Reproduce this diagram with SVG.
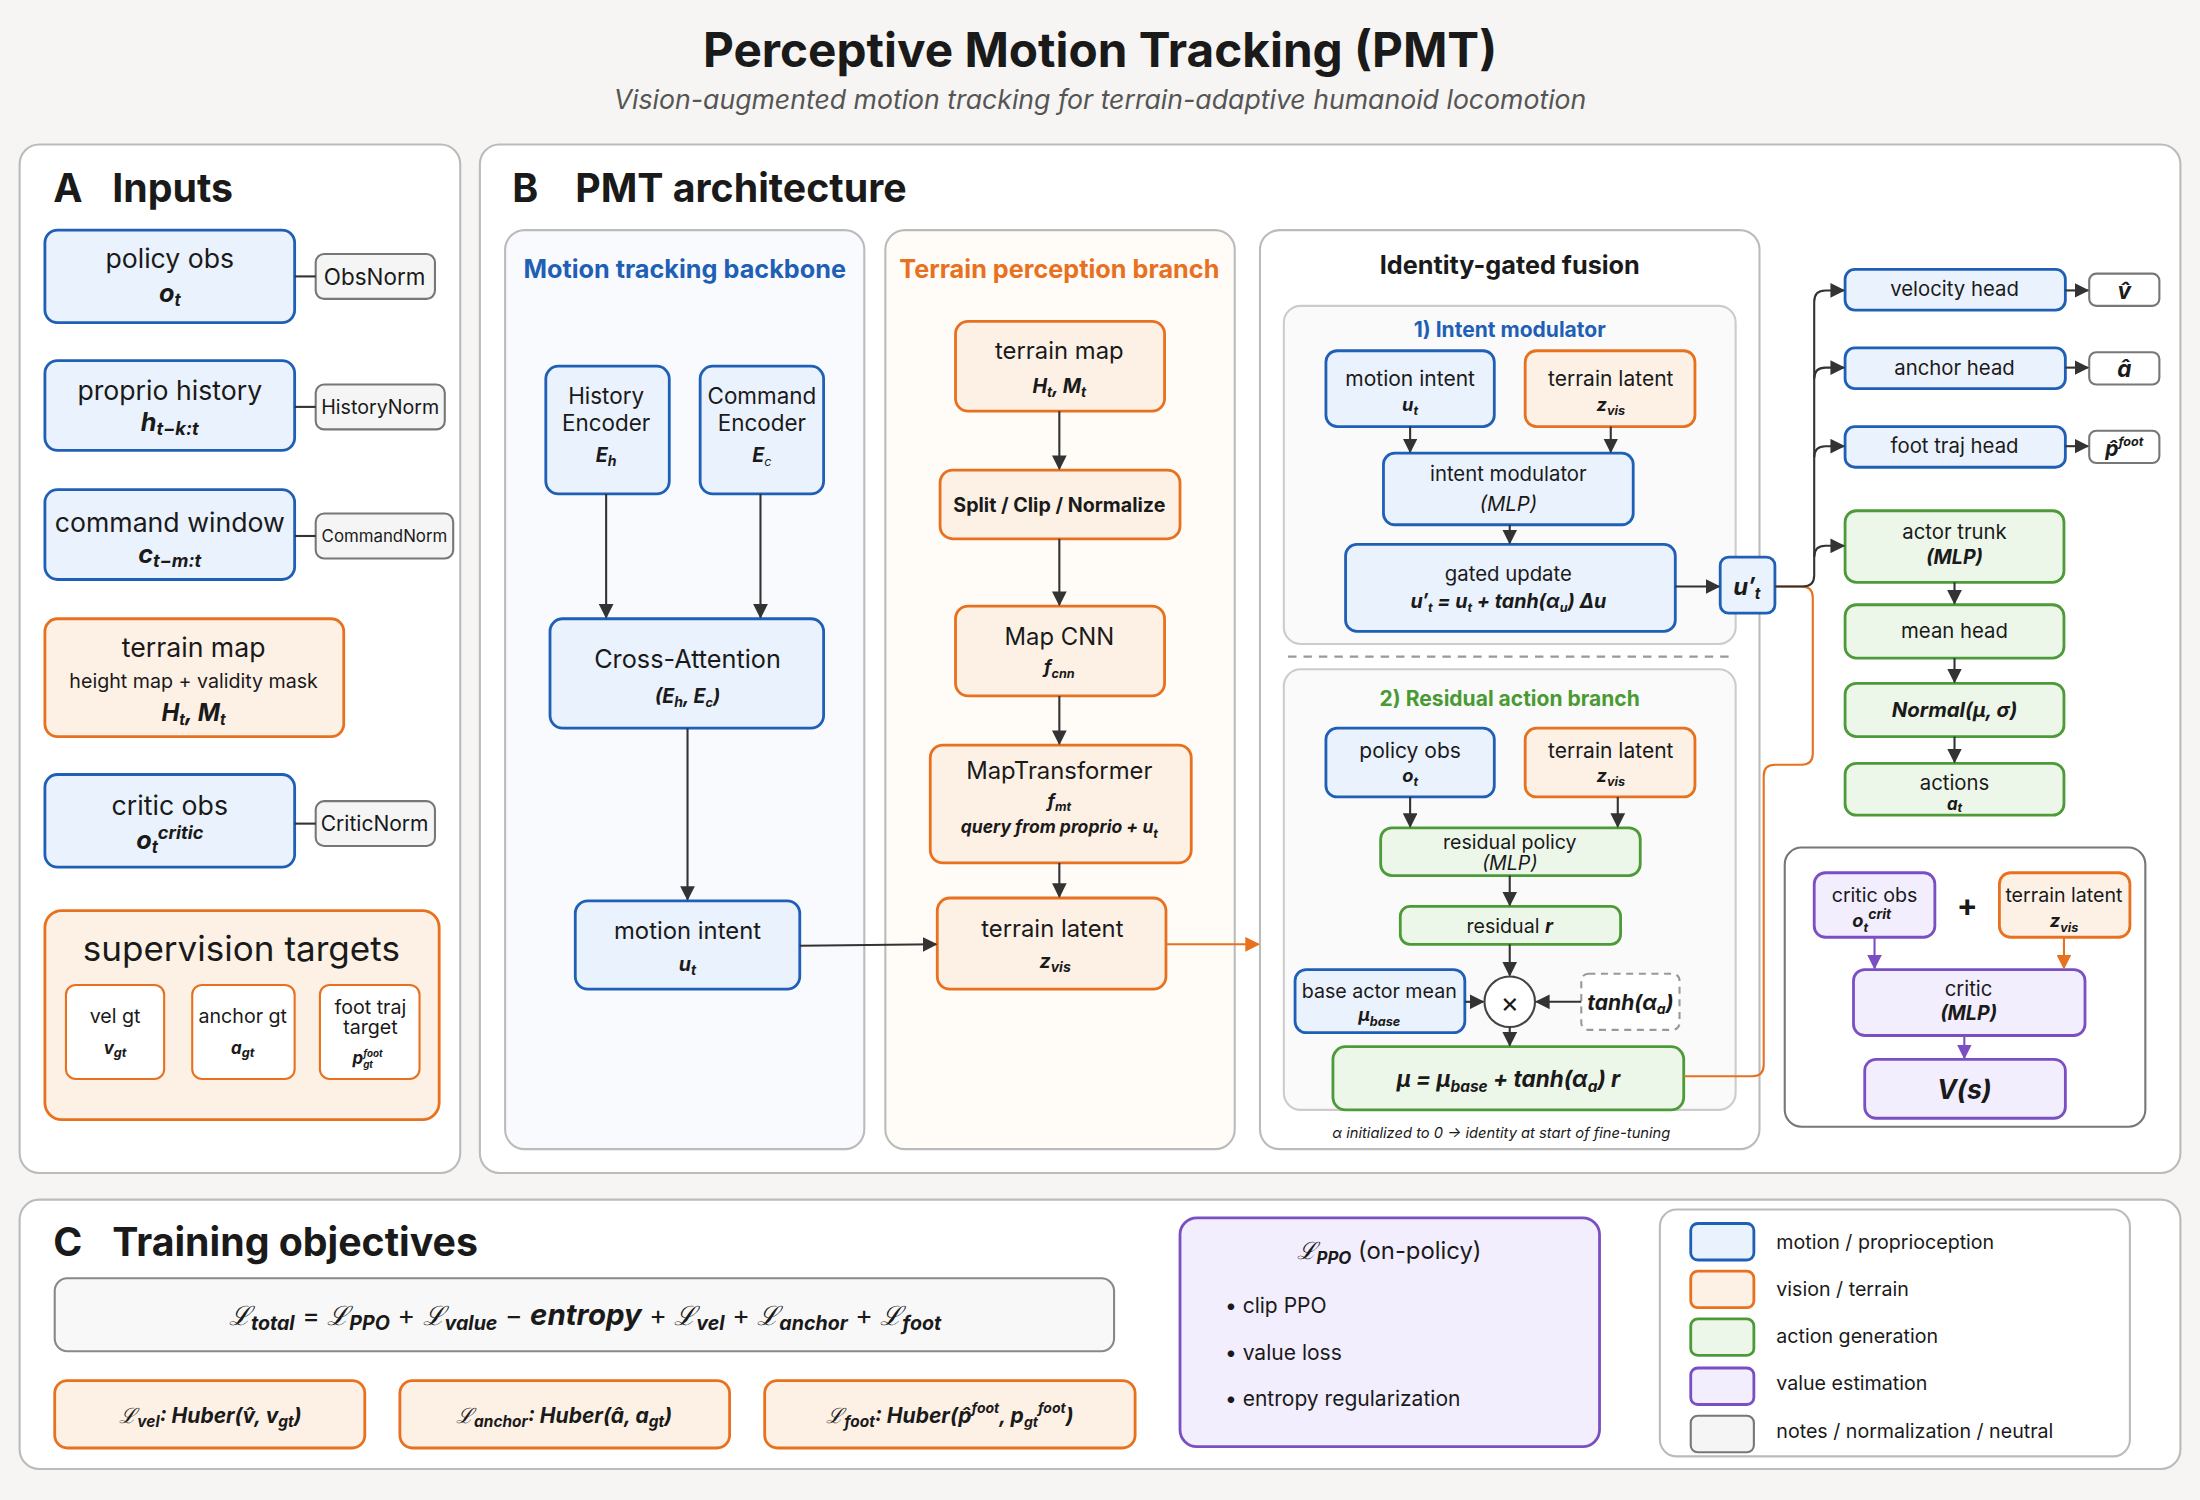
<svg xmlns="http://www.w3.org/2000/svg" width="2200" height="1500" viewBox="0 0 2200 1500">
<style>
text{font-family:Inter,"Noto Sans","DejaVu Sans",sans-serif;fill:#1a1a1a}
.c{text-anchor:middle}
.bi{font-weight:700;font-style:italic}
.b{font-weight:700}
.i{font-style:italic}
.blue{fill:#eaf2fd;stroke:#1f5fb5;stroke-width:2}
.or{fill:#fdf1e6;stroke:#e8711f;stroke-width:2}
.gr{fill:#edf7e9;stroke:#4d9a38;stroke-width:2}
.pu{fill:#f3eefd;stroke:#7b4fc4;stroke-width:2}
.ne{fill:#f5f5f5;stroke:#777;stroke-width:1.5}
.panel{fill:#fff;stroke:#bbb;stroke-width:1.5}
.ln{fill:none;stroke:#333;stroke-width:1.5}
.scr{font-family:"DejaVu Serif",serif;font-style:italic;font-weight:400}
</style>
<defs>
<marker id="a" viewBox="0 0 10 10" refX="9" refY="5" markerWidth="7" markerHeight="7" orient="auto"><path d="M0,0L10,5L0,10z" fill="#333"/></marker>
<marker id="ao" viewBox="0 0 10 10" refX="9" refY="5" markerWidth="7" markerHeight="7" orient="auto"><path d="M0,0L10,5L0,10z" fill="#e8711f"/></marker>
<marker id="ap" viewBox="0 0 10 10" refX="9" refY="5" markerWidth="7" markerHeight="7" orient="auto"><path d="M0,0L10,5L0,10z" fill="#7b4fc4"/></marker>
</defs>
<rect width="2200" height="1500" fill="#f6f5f3"/>
<g transform="scale(1.4031)">
<text x="784" y="48" class="c b" font-size="34">Perceptive Motion Tracking (PMT)</text>
<text x="784" y="78" class="c i" font-size="19" style="fill:#555">Vision-augmented motion tracking for terrain-adaptive humanoid locomotion</text>

<!-- Panel A -->
<g id="panelA">
<rect x="14" y="103" width="314" height="733" rx="14" class="panel"/>
<text x="38" y="144" class="b" font-size="28">A</text><text x="80" y="144" class="b" font-size="28">Inputs</text>
</g>
<g id="in_policy"><rect x="32" y="164" width="178" height="66" rx="9" class="blue"/><text x="121" y="191" class="c" font-size="19">policy obs</text><text x="121" y="215" class="c bi" font-size="18">o<tspan font-size="12" dy="3">t</tspan></text></g>
<g id="n_obs"><rect x="225" y="181" width="85" height="32" rx="6" class="ne"/><text x="267" y="203" class="c" font-size="16">ObsNorm</text></g>
<g id="in_hist"><rect x="32" y="257" width="178" height="64" rx="9" class="blue"/><text x="121" y="285" class="c" font-size="19">proprio history</text><text x="121" y="307" class="c bi" font-size="18">h<tspan font-size="13" dy="3">t−k:t</tspan></text></g>
<g id="n_hist"><rect x="225" y="274" width="92" height="32" rx="6" class="ne"/><text x="271" y="295" class="c" font-size="14">HistoryNorm</text></g>
<g id="in_cmd"><rect x="32" y="349" width="178" height="64" rx="9" class="blue"/><text x="121" y="379" class="c" font-size="19">command window</text><text x="121" y="401" class="c bi" font-size="18">c<tspan font-size="13" dy="3">t−m:t</tspan></text></g>
<g id="n_cmd"><rect x="225" y="366" width="98" height="32" rx="6" class="ne"/><text x="274" y="386" class="c" font-size="12">CommandNorm</text></g>
<g id="in_terrain"><rect x="32" y="441" width="213" height="84" rx="9" class="or"/><text x="138" y="468" class="c" font-size="19">terrain map</text><text x="138" y="490" class="c" font-size="14">height map + validity mask</text><text x="138" y="514" class="c bi" font-size="17">H<tspan font-size="11" dy="3">t</tspan><tspan dy="-3">, M</tspan><tspan font-size="11" dy="3">t</tspan></text></g>
<g id="in_critic"><rect x="32" y="552" width="178" height="66" rx="9" class="blue"/><text x="121" y="581" class="c" font-size="19">critic obs</text><text x="121" y="605" class="c bi" font-size="18">o<tspan font-size="12" dy="3">t</tspan><tspan font-size="13" dy="-10">critic</tspan></text></g>
<g id="n_critic"><rect x="225" y="571" width="85" height="32" rx="6" class="ne"/><text x="267" y="592" class="c" font-size="15">CriticNorm</text></g>
<g id="sup"><rect x="32" y="649" width="281" height="149" rx="12" class="or"/><text x="172" y="685" class="c" font-size="25">supervision targets</text>
<rect x="47" y="702" width="70" height="67" rx="7" fill="#fff" stroke="#e8711f" stroke-width="1.5"/><text x="82" y="729" class="c" font-size="14">vel gt</text><text x="82" y="751" class="c bi" font-size="12">v<tspan font-size="9" dy="2">gt</tspan></text>
<rect x="137" y="702" width="73" height="67" rx="7" fill="#fff" stroke="#e8711f" stroke-width="1.5"/><text x="173" y="729" class="c" font-size="14">anchor gt</text><text x="173" y="751" class="c bi" font-size="12">a<tspan font-size="9" dy="2">gt</tspan></text>
<rect x="228" y="702" width="71" height="67" rx="7" fill="#fff" stroke="#e8711f" stroke-width="1.5"/><text x="264" y="723" class="c" font-size="14">foot traj</text><text x="264" y="737" class="c" font-size="14">target</text><text x="262" y="758" class="c bi" font-size="12">p<tspan font-size="7" dy="3">gt</tspan><tspan font-size="7" dx="-7" dy="-8">foot</tspan></text></g>

<!-- Panel B -->
<g id="panelB">
<rect x="342" y="103" width="1212" height="733" rx="14" class="panel"/>
<text x="365" y="144" class="b" font-size="28">B</text><text x="410" y="144" class="b" font-size="28">PMT architecture</text>
<rect x="360" y="164" width="256" height="655" rx="14" fill="#f8fafd" stroke="#bbb" stroke-width="1.5"/>
<text x="488" y="198" class="c b" font-size="18" style="fill:#1f5fb5">Motion tracking backbone</text>
<rect x="631" y="164" width="249" height="655" rx="14" fill="#fffbf7" stroke="#bbb" stroke-width="1.5"/>
<text x="755" y="198" class="c b" font-size="18" style="fill:#e8711f">Terrain perception branch</text>
<rect x="898" y="164" width="356" height="655" rx="14" fill="#fff" stroke="#bbb" stroke-width="1.5"/>
<text x="1076" y="195" class="c b" font-size="18">Identity-gated fusion</text>
<rect x="915" y="218" width="322" height="241" rx="12" fill="#fafafa" stroke="#ccc" stroke-width="1.5"/>
<text x="1076" y="240" class="c b" font-size="15" style="fill:#1f5fb5">1) Intent modulator</text>
<line x1="918" y1="468" x2="1237" y2="468" stroke="#999" stroke-width="1.5" stroke-dasharray="6,5"/>
<rect x="915" y="477" width="322" height="314" rx="12" fill="#fafafa" stroke="#ccc" stroke-width="1.5"/>
<text x="1076" y="503" class="c b" font-size="15" style="fill:#4a9a34">2) Residual action branch</text>
<text x="1070" y="811" class="c i" font-size="10.5">α initialized to 0 → identity at start of fine-tuning</text>
<rect x="1272" y="604" width="257" height="199" rx="12" fill="#fff" stroke="#777" stroke-width="1.5"/>
</g>
<g id="histenc"><rect x="389" y="261" width="88" height="91" rx="9" class="blue"/><text x="432" y="288" class="c" font-size="16">History</text><text x="432" y="307" class="c" font-size="16">Encoder</text><text x="432" y="329" class="c bi" font-size="14">E<tspan font-size="10" dy="3">h</tspan></text></g>
<g id="cmdenc"><rect x="499" y="261" width="88" height="91" rx="9" class="blue"/><text x="543" y="288" class="c" font-size="16">Command</text><text x="543" y="307" class="c" font-size="16">Encoder</text><text x="543" y="329" class="c bi" font-size="14">E<tspan font-size="9" dy="3" font-weight="400">c</tspan></text></g>
<g id="xattn"><rect x="392" y="441" width="195" height="78" rx="9" class="blue"/><text x="490" y="476" class="c" font-size="18">Cross-Attention</text><text x="490" y="501" class="c bi" font-size="14">(E<tspan font-size="10" dy="3">h</tspan><tspan dy="-3">, E</tspan><tspan font-size="9" dy="3">c</tspan><tspan dy="-3">)</tspan></text></g>
<g id="mintent"><rect x="410" y="642" width="160" height="63" rx="9" class="blue"/><text x="490" y="669" class="c" font-size="17">motion intent</text><text x="490" y="692" class="c bi" font-size="14">u<tspan font-size="10" dy="3">t</tspan></text></g>
<g id="tmap"><rect x="681" y="229" width="149" height="64" rx="9" class="or"/><text x="755" y="256" class="c" font-size="17">terrain map</text><text x="755" y="280" class="c bi" font-size="14">H<tspan font-size="10" dy="3">t</tspan><tspan dy="-3">, M</tspan><tspan font-size="10" dy="3">t</tspan></text></g>
<g id="split"><rect x="670" y="335" width="171" height="49" rx="9" class="or"/><text x="755" y="365" class="c b" font-size="14">Split / Clip / Normalize</text></g>
<g id="cnn"><rect x="681" y="432" width="149" height="64" rx="9" class="or"/><text x="755" y="460" class="c" font-size="17">Map CNN</text><text x="755" y="480" class="c bi" font-size="13">f<tspan font-size="9" dy="3">cnn</tspan></text></g>
<g id="mtr"><rect x="663" y="531" width="186" height="84" rx="9" class="or"/><text x="755" y="555" class="c" font-size="17">MapTransformer</text><text x="755" y="575" class="c bi" font-size="13">f<tspan font-size="9" dy="3">mt</tspan></text><text x="755" y="594" class="c bi" font-size="12.5">query from proprio + u<tspan font-size="9" dy="3">t</tspan></text></g>
<g id="tlat"><rect x="668" y="640" width="163" height="65" rx="9" class="or"/><text x="750" y="668" class="c" font-size="17">terrain latent</text><text x="752" y="690" class="c bi" font-size="14">z<tspan font-size="10" dy="3">vis</tspan></text></g>

<g id="f_mi"><rect x="945" y="250" width="120" height="54" rx="8" class="blue"/><text x="1005" y="275" class="c" font-size="15">motion intent</text><text x="1005" y="293" class="c bi" font-size="13">u<tspan font-size="9" dy="3">t</tspan></text></g>
<g id="f_tl"><rect x="1087" y="250" width="121" height="54" rx="8" class="or"/><text x="1148" y="275" class="c" font-size="15">terrain latent</text><text x="1148" y="293" class="c bi" font-size="13">z<tspan font-size="9" dy="3">vis</tspan></text></g>
<g id="f_im"><rect x="986" y="323" width="178" height="51" rx="8" class="blue"/><text x="1075" y="343" class="c" font-size="14.5">intent modulator</text><text x="1075" y="364" class="c i" font-size="14.5">(MLP)</text></g>
<g id="f_gu"><rect x="959" y="388" width="235" height="62" rx="8" class="blue"/><text x="1075" y="414" class="c" font-size="14.5">gated update</text><text x="1075" y="433" class="c bi" font-size="14">u′<tspan font-size="9" dy="3">t</tspan><tspan dy="-3"> = u</tspan><tspan font-size="9" dy="3">t</tspan><tspan dy="-3"> + tanh(α</tspan><tspan font-size="9" dy="3">u</tspan><tspan dy="-3">) Δu</tspan></text></g>
<g id="uprime"><rect x="1226" y="397" width="39" height="40" rx="6" class="blue" stroke-width="1.5"/><text x="1245" y="424" class="c bi" font-size="17">u′<tspan font-size="11" dy="3">t</tspan></text></g>
<g id="r_po"><rect x="945" y="519" width="120" height="49" rx="8" class="blue"/><text x="1005" y="540" class="c" font-size="15">policy obs</text><text x="1005" y="557" class="c bi" font-size="13">o<tspan font-size="9" dy="3">t</tspan></text></g>
<g id="r_tl"><rect x="1087" y="519" width="121" height="49" rx="8" class="or"/><text x="1148" y="540" class="c" font-size="15">terrain latent</text><text x="1148" y="557" class="c bi" font-size="13">z<tspan font-size="9" dy="3">vis</tspan></text></g>
<g id="r_rp"><rect x="984" y="590" width="185" height="34" rx="8" class="gr"/><text x="1076" y="605" class="c" font-size="14">residual policy</text><text x="1076" y="620" class="c i" font-size="14">(MLP)</text></g>
<g id="r_r"><rect x="998" y="646" width="157" height="27" rx="7" class="gr"/><text x="1076" y="665" class="c" font-size="14">residual <tspan class="bi">r</tspan></text></g>
<g id="r_bam"><rect x="923" y="691" width="121" height="45" rx="8" class="blue"/><text x="983" y="711" class="c" font-size="14">base actor mean</text><text x="983" y="728" class="c bi" font-size="13">μ<tspan font-size="9" dy="3">base</tspan></text></g>
<g id="r_x"><circle cx="1076" cy="714" r="18" fill="#fff" stroke="#444" stroke-width="1.5"/><text x="1076" y="721" class="c" font-size="20">×</text></g>
<g id="r_tanh"><rect x="1127" y="694" width="70" height="40" rx="5" fill="#fff" stroke="#999" stroke-width="1.5" stroke-dasharray="5,4"/><text x="1162" y="720" class="c bi" font-size="15">tanh(α<tspan font-size="10" dy="3">a</tspan><tspan dy="-3">)</tspan></text></g>
<g id="r_mu"><rect x="950" y="746" width="250" height="45" rx="9" class="gr"/><text x="1075" y="775" class="c bi" font-size="16">μ = μ<tspan font-size="11" dy="3">base</tspan><tspan dy="-3"> + tanh(α</tspan><tspan font-size="11" dy="3">a</tspan><tspan dy="-3">) r</tspan></text></g>

<g id="h_vel"><rect x="1315" y="192" width="157" height="29" rx="7" class="blue"/><text x="1393" y="211" class="c" font-size="14.5">velocity head</text><rect x="1489" y="195" width="50" height="23" rx="5" fill="#fff" stroke="#777" stroke-width="1.5"/><text x="1514" y="213" class="c bi" font-size="16">v̂</text></g>
<g id="h_anc"><rect x="1315" y="248" width="157" height="29" rx="7" class="blue"/><text x="1393" y="267" class="c" font-size="14.5">anchor head</text><rect x="1489" y="251" width="50" height="23" rx="5" fill="#fff" stroke="#777" stroke-width="1.5"/><text x="1514" y="269" class="c bi" font-size="16">â</text></g>
<g id="h_foot"><rect x="1315" y="304" width="157" height="29" rx="7" class="blue"/><text x="1393" y="323" class="c" font-size="14.5">foot traj head</text><rect x="1489" y="307" width="50" height="23" rx="5" fill="#fff" stroke="#777" stroke-width="1.5"/><text x="1514" y="325" class="c bi" font-size="15">p̂<tspan font-size="9" dy="-7">foot</tspan></text></g>
<g id="a_trunk"><rect x="1315" y="364" width="156" height="51" rx="8" class="gr"/><text x="1393" y="384" class="c" font-size="14.5">actor trunk</text><text x="1393" y="402" class="c bi" font-size="14">(MLP)</text></g>
<g id="a_mean"><rect x="1315" y="431" width="156" height="38" rx="8" class="gr"/><text x="1393" y="455" class="c" font-size="14.5">mean head</text></g>
<g id="a_norm"><rect x="1315" y="487" width="156" height="38" rx="8" class="gr"/><text x="1393" y="511" class="c bi" font-size="14.5">Normal(μ, σ)</text></g>
<g id="a_act"><rect x="1315" y="544" width="156" height="37" rx="8" class="gr"/><text x="1393" y="563" class="c" font-size="14.5">actions</text><text x="1393" y="577" class="c bi" font-size="12">a<tspan font-size="9" dy="2">t</tspan></text></g>
<g id="c_obs"><rect x="1293" y="622" width="86" height="46" rx="8" class="pu"/><text x="1336" y="643" class="c" font-size="14">critic obs</text><text x="1334" y="661" class="c bi" font-size="13">o<tspan font-size="9" dy="3">t</tspan><tspan font-size="10" dy="-9">crit</tspan></text></g>
<text x="1402" y="653" class="c b" font-size="22">+</text>
<g id="c_tl"><rect x="1425" y="622" width="93" height="46" rx="8" class="or"/><text x="1471" y="643" class="c" font-size="14">terrain latent</text><text x="1471" y="661" class="c bi" font-size="13">z<tspan font-size="9" dy="3">vis</tspan></text></g>
<g id="c_mlp"><rect x="1321" y="691" width="165" height="47" rx="8" class="pu"/><text x="1403" y="710" class="c" font-size="14.5">critic</text><text x="1403" y="727" class="c bi" font-size="14">(MLP)</text></g>
<g id="c_v"><rect x="1329" y="755" width="143" height="42" rx="8" class="pu"/><text x="1400" y="783" class="c bi" font-size="19">V(s)</text></g>

<g id="connectors">
<line x1="210" y1="197" x2="225" y2="197" class="ln"/>
<line x1="210" y1="290" x2="225" y2="290" class="ln"/>
<line x1="210" y1="382" x2="225" y2="382" class="ln"/>
<line x1="210" y1="587" x2="225" y2="587" class="ln"/>
<line x1="432" y1="352" x2="432" y2="440" class="ln" marker-end="url(#a)"/>
<line x1="542" y1="352" x2="542" y2="440" class="ln" marker-end="url(#a)"/>
<line x1="490" y1="519" x2="490" y2="641" class="ln" marker-end="url(#a)"/>
<line x1="570" y1="674" x2="667" y2="673" class="ln" marker-end="url(#a)"/>
<line x1="755" y1="293" x2="755" y2="334" class="ln" marker-end="url(#a)"/>
<line x1="755" y1="384" x2="755" y2="431" class="ln" marker-end="url(#a)"/>
<line x1="755" y1="496" x2="755" y2="530" class="ln" marker-end="url(#a)"/>
<line x1="755" y1="615" x2="755" y2="639" class="ln" marker-end="url(#a)"/>
<line x1="831" y1="673" x2="897" y2="673" fill="none" stroke="#e8711f" stroke-width="1.5" marker-end="url(#ao)"/>
<line x1="1005" y1="304" x2="1005" y2="322" class="ln" marker-end="url(#a)"/>
<line x1="1148" y1="304" x2="1148" y2="322" class="ln" marker-end="url(#a)"/>
<line x1="1076" y1="374" x2="1076" y2="387" class="ln" marker-end="url(#a)"/>
<line x1="1194" y1="418" x2="1225" y2="418" class="ln" stroke-width="2" marker-end="url(#a)"/>
<line x1="1005" y1="568" x2="1005" y2="589" class="ln" marker-end="url(#a)"/>
<line x1="1153" y1="568" x2="1153" y2="589" class="ln" marker-end="url(#a)"/>
<line x1="1076" y1="624" x2="1076" y2="645" class="ln" marker-end="url(#a)"/>
<line x1="1076" y1="673" x2="1076" y2="695" class="ln" marker-end="url(#a)"/>
<line x1="1044" y1="714" x2="1057" y2="714" class="ln" marker-end="url(#a)"/>
<line x1="1127" y1="714" x2="1095" y2="714" class="ln" marker-end="url(#a)"/>
<line x1="1076" y1="732" x2="1076" y2="745" class="ln" marker-end="url(#a)"/>
<path d="M1200,767 H1249 Q1257,767 1257,759 V553 Q1257,545 1265,545 H1284 Q1292,545 1292,537 V426 Q1292,418 1284,418 H1265" fill="none" stroke="#e8711f" stroke-width="1.5"/>
<path d="M1265,418 H1285 Q1293,418 1293,410 V215 Q1293,207 1301,207 H1314" class="ln" stroke-width="2" marker-end="url(#a)"/>
<path d="M1293,270 Q1293,262 1301,262 H1314" class="ln" stroke-width="2" marker-end="url(#a)"/>
<path d="M1293,326 Q1293,318 1301,318 H1314" class="ln" stroke-width="2" marker-end="url(#a)"/>
<path d="M1293,397 Q1293,389 1301,389 H1314" class="ln" stroke-width="2" marker-end="url(#a)"/>
<line x1="1472" y1="207" x2="1488" y2="207" class="ln" stroke-width="2" marker-end="url(#a)"/>
<line x1="1472" y1="262" x2="1488" y2="262" class="ln" stroke-width="2" marker-end="url(#a)"/>
<line x1="1472" y1="318" x2="1488" y2="318" class="ln" stroke-width="2" marker-end="url(#a)"/>
<line x1="1393" y1="415" x2="1393" y2="430" class="ln" marker-end="url(#a)"/>
<line x1="1393" y1="469" x2="1393" y2="486" class="ln" marker-end="url(#a)"/>
<line x1="1393" y1="525" x2="1393" y2="543" class="ln" marker-end="url(#a)"/>
<line x1="1336" y1="668" x2="1336" y2="690" fill="none" stroke="#7b4fc4" stroke-width="1.5" marker-end="url(#ap)"/>
<line x1="1471" y1="668" x2="1471" y2="690" fill="none" stroke="#e8711f" stroke-width="1.5" marker-end="url(#ao)"/>
<line x1="1400" y1="738" x2="1400" y2="754" fill="none" stroke="#7b4fc4" stroke-width="1.5" marker-end="url(#ap)"/>
</g>

<!-- Panel C -->
<g id="panelC">
<rect x="14" y="855" width="1540" height="192" rx="14" class="panel"/>
<text x="38" y="895" class="b" font-size="28">C</text><text x="80" y="895" class="b" font-size="28">Training objectives</text>
</g>
<g id="total"><rect x="39" y="911" width="755" height="52" rx="9" fill="#f8f8f8" stroke="#888" stroke-width="1.5"/>
<text x="417" y="944" class="c" font-size="19"><tspan class="scr">ℒ</tspan><tspan class="bi" font-size="14" dy="4">total</tspan><tspan dy="-4"> = </tspan><tspan class="scr">ℒ</tspan><tspan class="bi" font-size="14" dy="4">PPO</tspan><tspan dy="-4"> + </tspan><tspan class="scr">ℒ</tspan><tspan class="bi" font-size="14" dy="4">value</tspan><tspan dy="-4"> − </tspan><tspan class="bi" font-size="21">entropy</tspan><tspan> + </tspan><tspan class="scr">ℒ</tspan><tspan class="bi" font-size="14" dy="4">vel</tspan><tspan dy="-4"> + </tspan><tspan class="scr">ℒ</tspan><tspan class="bi" font-size="14" dy="4">anchor</tspan><tspan dy="-4"> + </tspan><tspan class="scr">ℒ</tspan><tspan class="bi" font-size="14" dy="4">foot</tspan></text></g>
<g id="lvel"><rect x="39" y="984" width="221" height="48" rx="9" class="or"/><text x="150" y="1014" class="c bi" font-size="15"><tspan class="scr">ℒ</tspan><tspan font-size="11" dy="3">vel</tspan><tspan dy="-3">: Huber(v̂, v</tspan><tspan font-size="11" dy="3">gt</tspan><tspan dy="-3">)</tspan></text></g>
<g id="lanc"><rect x="285" y="984" width="235" height="48" rx="9" class="or"/><text x="402" y="1014" class="c bi" font-size="15"><tspan class="scr">ℒ</tspan><tspan font-size="11" dy="3">anchor</tspan><tspan dy="-3">: Huber(â, a</tspan><tspan font-size="11" dy="3">gt</tspan><tspan dy="-3">)</tspan></text></g>
<g id="lfoot"><rect x="545" y="984" width="264" height="48" rx="9" class="or"/><text x="677" y="1014" class="c bi" font-size="15"><tspan class="scr">ℒ</tspan><tspan font-size="11" dy="3">foot</tspan><tspan dy="-3">: Huber(p̂</tspan><tspan font-size="10" dy="-7">foot</tspan><tspan dy="7">, p</tspan><tspan font-size="10" dy="3">gt</tspan><tspan font-size="10" dy="-10">foot</tspan><tspan dy="7">)</tspan></text></g>
<g id="lppo"><rect x="841" y="868" width="299" height="163" rx="12" class="pu"/>
<text x="990" y="897" class="c" font-size="17"><tspan class="scr">ℒ</tspan><tspan class="bi" font-size="12" dy="4">PPO</tspan><tspan dy="-4"> (on-policy)</tspan></text>
<text x="873" y="936" font-size="15">• clip PPO</text><text x="873" y="969" font-size="15">• value loss</text><text x="873" y="1002" font-size="15">• entropy regularization</text></g>
<g id="legend"><rect x="1183" y="862" width="335" height="176" rx="12" fill="#fff" stroke="#bbb" stroke-width="1.5"/>
<rect x="1205" y="872" width="45" height="26" rx="5" class="blue"/><text x="1266" y="890" font-size="14">motion / proprioception</text>
<rect x="1205" y="906" width="45" height="26" rx="5" class="or"/><text x="1266" y="924" font-size="14">vision / terrain</text>
<rect x="1205" y="940" width="45" height="26" rx="5" class="gr"/><text x="1266" y="957" font-size="14">action generation</text>
<rect x="1205" y="975" width="45" height="26" rx="5" class="pu"/><text x="1266" y="991" font-size="14">value estimation</text>
<rect x="1205" y="1009" width="45" height="26" rx="5" class="ne" stroke-width="2"/><text x="1266" y="1025" font-size="14">notes / normalization / neutral</text></g>
</g>
</svg>
